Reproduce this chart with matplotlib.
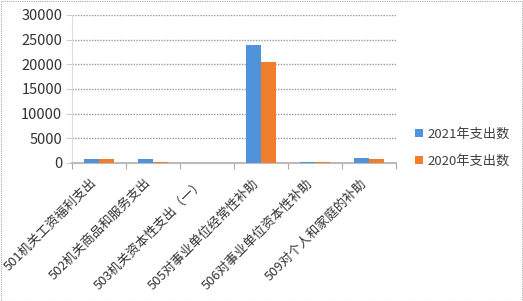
import matplotlib
matplotlib.use("Agg")
import matplotlib.pyplot as plt
import matplotlib.transforms as mtransforms
import numpy as np

plt.rcParams['font.family'] = ['Noto Sans CJK SC', 'DejaVu Sans']

categories = ["501机关工资福利支出", "502机关商品和服务支出", "503机关资本性支出（一）",
              "505对事业单位经常性补助", "506对事业单位资本性补助", "509对个人和家庭的补助"]
series_2021 = [900, 900, 0, 24000, 200, 950]
series_2020 = [880, 250, 0, 20550, 200, 800]
labels = ["2021年支出数", "2020年支出数"]
yticks = [0, 5000, 10000, 15000, 20000, 25000, 30000]

W, H = 523, 301
fig = plt.figure(figsize=(W/100, H/100), dpi=100)
ax = fig.add_axes([72/W, 1-163/H, (396-72)/W, (163-15)/H])

x = np.arange(len(categories))
bw = 0.278
b1 = ax.bar(x - bw/2, series_2021, bw, color='#4F93DB', label=labels[0], zorder=3)
b2 = ax.bar(x + bw/2, series_2020, bw, color='#F07E2C', label=labels[1], zorder=3)

ax.set_xlim(-0.5, len(categories) - 0.5)
ax.set_ylim(0, 30000)
ax.set_yticks(yticks)
ax.set_yticklabels([str(v) for v in yticks], fontsize=10.5, color='#333333')
ax.yaxis.grid(True, color='#999999', linestyle=(0, (1, 1)), linewidth=1, zorder=0)
ax.set_axisbelow(True)

ax.set_xticks(np.arange(-0.5, len(categories), 1.0))
ax.set_xticklabels([])
ax.set_xticks(x, minor=True)
ax.set_xticklabels(categories, minor=True, rotation=45, ha='right', va='center',
                   rotation_mode='anchor', fontsize=9.3, color='#333333')
ax.tick_params(axis='x', which='minor', length=0, pad=13)
ax.tick_params(axis='x', which='major', length=4, color='#aaaaaa', direction='out')
ax.tick_params(axis='y', length=4, color='#cccccc', pad=3)
shift = mtransforms.ScaledTranslation(-4/100, 0, fig.dpi_scale_trans)
for t in ax.get_xticklabels(minor=True):
    t.set_transform(t.get_transform() + shift)

for s in ['top', 'right']:
    ax.spines[s].set_visible(False)
ax.spines['bottom'].set_color('#bbbbbb')
ax.spines['bottom'].set_linewidth(1.5)
ax.spines['left'].set_color('#dddddd')

leg = fig.legend(handles=[b1, b2], labels=labels, loc='upper left',
                 bbox_to_anchor=(403/W, 1-116/H), frameon=False, fontsize=9.5,
                 handlelength=0.6, handleheight=0.6, handletextpad=0.35, labelspacing=1.05)
for t in leg.get_texts():
    t.set_color('#404040')

fig.patches.append(plt.Rectangle((0.5/W, 0.5/H), 1-1.5/W, 1-1.5/H, transform=fig.transFigure,
                                 fill=False, edgecolor='#aaaaaa', linewidth=0.8,
                                 linestyle=(0, (1, 1))))

fig.savefig('out.png', dpi=100)
